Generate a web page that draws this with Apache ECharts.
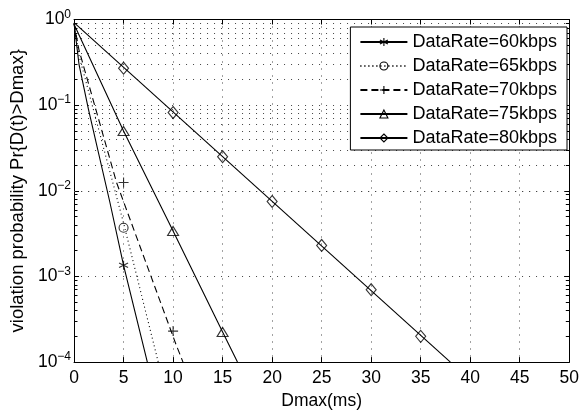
<!DOCTYPE html>
<html><head><meta charset="utf-8">
<script src="https://cdn.jsdelivr.net/npm/echarts@6/dist/echarts.min.js"></script>
<style>html,body{margin:0;padding:0;background:#fff}#c{width:582px;height:415px}</style>
</head><body><div id="c"></div>
<script>
// ---- data ----
const seriesNames = ['DataRate=60kbps','DataRate=65kbps','DataRate=70kbps','DataRate=75kbps','DataRate=80kbps'];
const xTickValues = [0,5,10,15,20,25,30,35,40,45,50];
const yDecades = [1e-4,1e-3,1e-2,1e-1,1];

// analytic curves (Dmax, probability)
const line60 = [[0,0.9],[0.5,0.3],[1.45,0.09],[3.6,0.0075],[5,0.00135],[7.4,1e-4]];
const line65 = [[0,0.9],[0.5,0.38],[5,0.0042],[8.5,1e-4]];
const line70 = [[0,0.9],[0.5,0.44],[4.3,0.0124],[10.3,1.6e-4],[11,1e-4]];
const line75 = [[0,0.88],[5,0.05],[10,0.0034],[15,0.000225],[16.5,1e-4]];
const line80 = [[0,0.92],[38,1e-4]];

// marker points
const marks60 = [[5,0.00135]];
const marks65 = [[5,0.0037]];
const marks70 = [[5,0.0125],[10,0.00023]];
const marks75 = [[5,0.05],[10,0.0034],[15,0.000225]];
const marks80 = [[5,0.27],[10,0.082],[15,0.025],[20,0.0075],[25,0.0023],[30,0.0007],[35,0.0002]];

// ---- styling ----
const FONT = 'Liberation Sans';
const SYM_STAR = 'path://M5,0L5,10M0.67,2.5L9.33,7.5M0.67,7.5L9.33,2.5';
const SYM_PLUS = 'path://M5,0L5,10M0,5L10,5';
const SYM_CIRC = 'circle';
const SYM_TRI = 'triangle';
const SYM_DIA = 'diamond';

const lines = [line60,line65,line70,line75,line80];
const marks = [marks60,marks65,marks70,marks75,marks80];
const syms = [SYM_STAR,SYM_CIRC,SYM_PLUS,SYM_TRI,SYM_DIA];
const symSizes = [9,9,10,[11,9],[10,12]];
const dashTypes = ['solid',[1,3],[7,4],'solid','solid'];

// minor log grid values (2..9 per decade)
const minorVals = [];
for (let d = -4; d < 0; d++) for (let m = 2; m <= 9; m++) minorVals.push(m * Math.pow(10, d));

const gridDot = {color:'#444', width:1, type:[1,6]};
const markLineData = [];
minorVals.forEach(v => {
  markLineData.push({yAxis: v, lineStyle: gridDot});
  markLineData.push([{coord:[0,v], lineStyle:{color:'#000',width:1,type:'solid'}},{coord:[0.35,v]}]);
  markLineData.push([{coord:[49.65,v], lineStyle:{color:'#000',width:1,type:'solid'}},{coord:[50,v]}]);
});

const series = [];
lines.forEach((d,i) => {
  const s = {
    name: seriesNames[i], type:'line', data:d, xAxisIndex:0, yAxisIndex:0,
    symbol: syms[i], symbolSize: symSizes[i], showSymbol:false,
    lineStyle:{color:'#000', width:1.1, type:dashTypes[i]},
    itemStyle:{color:'transparent', borderColor:'#000', borderWidth:1.1},
    z: 3, animation:false
  };
  if (i === 4) {
    s.markLine = {silent:true, symbol:['none','none'], label:{show:false}, animation:false, z:1, data: markLineData};
  }
  series.push(s);
});
marks.forEach((d,i) => {
  series.push({
    name: 'pts' + i, type:'scatter', data:d, xAxisIndex:0, yAxisIndex:0,
    symbol: syms[i], symbolSize: symSizes[i],
    itemStyle:{color:'transparent', borderColor:'#000', borderWidth:1.1},
    z: 4, animation:false
  });
});

const supLabel = v => {
  const e = Math.round(Math.log10(v));
  return '{b|10}{s|' + (e === 0 ? '0' : '\u2212' + (-e)) + '}';
};

const option = {
  backgroundColor:'#fff',
  animation:false,
  textStyle:{fontFamily:FONT},
  grid:{left:72, right:10, top:19.5, bottom:49.5, containLabel:false},
  legend:{
    data: seriesNames, orient:'vertical', right:15, top:27,
    backgroundColor:'#fff', borderColor:'#000', borderWidth:1, borderRadius:0,
    padding:[6,10,3,9], itemGap:6, itemWidth:47, itemHeight:10,
    textStyle:{fontFamily:FONT, fontSize:18, color:'#000', lineHeight:16},
    lineStyle:{color:'#000'},
    itemStyle:{color:'transparent', borderColor:'#000', borderWidth:1.1}
  },
  xAxis:[{
    type:'value', min:0, max:50, interval:5, position:'bottom',
    name:'Dmax(ms)', nameLocation:'middle', nameGap:27,
    nameTextStyle:{fontFamily:FONT, fontSize:17.5, color:'#000'},
    axisLine:{onZero:false, lineStyle:{color:'#000', width:1}},
    axisTick:{inside:true, length:5, lineStyle:{color:'#000'}},
    axisLabel:{fontFamily:FONT, fontSize:17.5, color:'#000', margin:7},
    splitLine:{show:true, lineStyle:gridDot}
  },{
    type:'value', min:0, max:50, interval:5, position:'top',
    axisLine:{onZero:false, lineStyle:{color:'#000', width:1}},
    axisTick:{inside:true, length:5, lineStyle:{color:'#000'}},
    axisLabel:{show:false}, splitLine:{show:false}
  }],
  yAxis:[{
    type:'log', logBase:10, min:1e-4, max:1, position:'left',
    name:'violation probability Pr{D(t)>Dmax}', nameLocation:'middle', nameGap:44,
    nameTextStyle:{fontFamily:FONT, fontSize:18.5, color:'#000'},
    axisLine:{onZero:false, lineStyle:{color:'#000', width:1}},
    axisTick:{inside:true, length:5, lineStyle:{color:'#000'}},
    axisLabel:{margin:3, formatter:supLabel, rich:{
      b:{fontFamily:FONT, fontSize:17.5, color:'#000'},
      s:{fontFamily:FONT, fontSize:12, color:'#000', verticalAlign:'bottom', padding:[0,0,10,0]}
    }},
    splitLine:{show:true, lineStyle:gridDot}
  },{
    type:'log', logBase:10, min:1e-4, max:1, position:'right',
    axisLine:{onZero:false, lineStyle:{color:'#000', width:1}},
    axisTick:{inside:true, length:5, lineStyle:{color:'#000'}},
    axisLabel:{show:false}, splitLine:{show:false}
  }],
  series: series
};
echarts.init(document.getElementById('c'), null, {renderer:'canvas'}).setOption(option);
</script></body></html>
